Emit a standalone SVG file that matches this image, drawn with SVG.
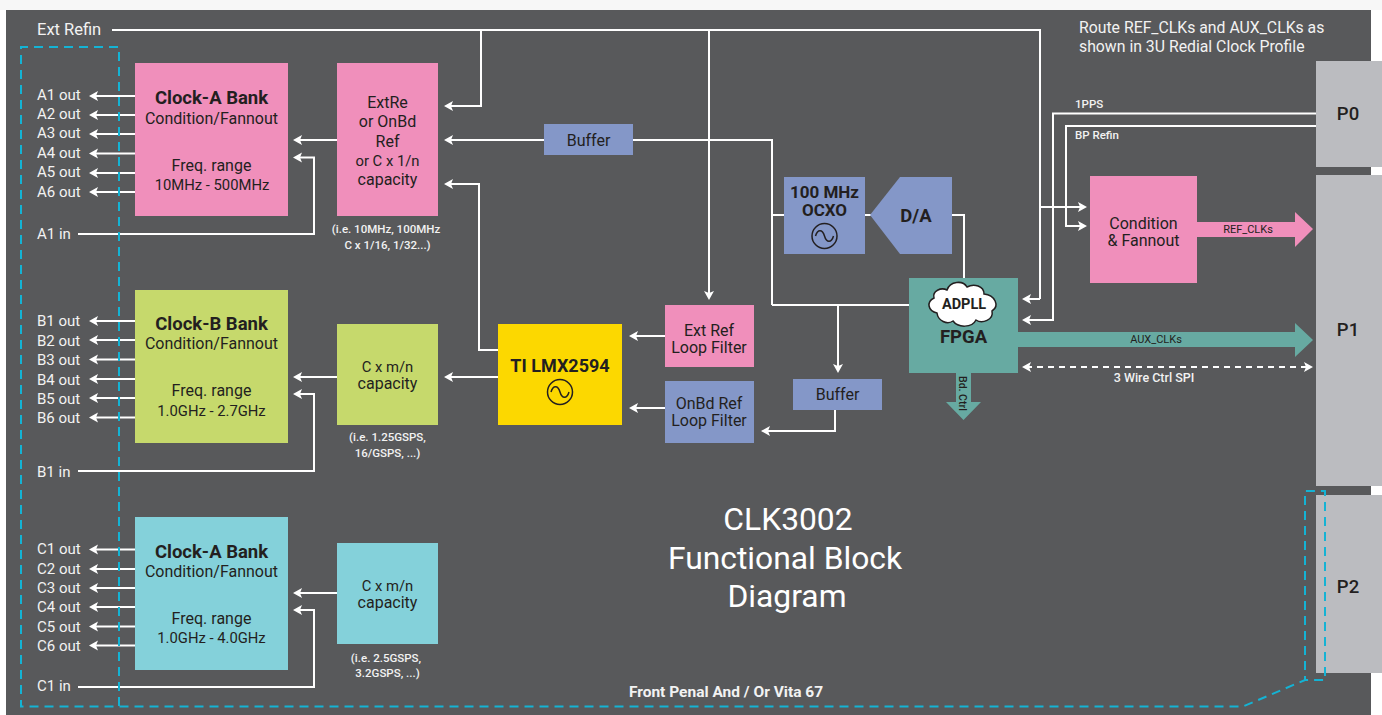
<svg xmlns="http://www.w3.org/2000/svg" width="1382" height="715" viewBox="0 0 1382 715">
<style>
text{font-family:"Roboto","Liberation Sans",sans-serif;font-size:15.800px;fill:#231f20}
.m{text-anchor:middle}
.w{fill:#f2f2f2}
.b{font-weight:700}
.h{font-size:18.500px;font-weight:700}
.f{font-size:18.500px;font-weight:500}
.n{font-size:16px}
.r{font-size:14.800px}
.s{font-size:11.500px;font-weight:500}
.x{font-size:11px}
.t{font-size:31.800px;fill:#fff}
.o{font-size:15px;fill:#f2f2f2}
.c{fill:none;stroke:#fff;stroke-width:2}
.a{marker-end:url(#ah)}
.d{fill:none;stroke:#14b3d4;stroke-width:2;stroke-dasharray:9 6}
.sym{fill:none;stroke:#231f20;stroke-width:1.500}
</style>
<defs>
<marker id="ah" markerUnits="userSpaceOnUse" markerWidth="10" markerHeight="12" refX="5" refY="6" orient="auto-start-reverse"><path d="M0 1L9 6L0 11L2 6Z" fill="#fff"/></marker>
<g id="sine"><circle r="12.500" class="sym"/><path class="sym" d="M-9 0C-7-7-2-7 0 0S7 7 9 0"/></g>
</defs>
<rect width="1382" height="715" fill="#fff"/>
<rect y="0" width="1382" height="10" fill="#f7f7f7"/>
<rect x="6" y="10" width="1365" height="705" fill="#58595b"/>

<g id="connectors">
<path class="c" d="M112 30H1040V299"/>
<path class="c a" d="M1040 299H1026"/>
<path class="c a" d="M481 30V106H448"/>
<path class="c a" d="M709 30V296"/>
<path class="c a" d="M1040 207H1083"/>
<path class="c a" d="M1316 113.500H1053V320H1026"/>
<path class="c a" d="M1316 126H1066V226H1083"/>
<path class="c a" d="M544 140H448"/>
<path class="c" d="M633 140H772V305"/>
<path class="c a" d="M772 305H923"/>
<path class="c a" d="M838 305V369"/>
<path class="c" d="M772 215H784"/>
<path class="c" d="M865 215H871"/>
<path class="c" d="M952 215H964V288"/>
<path class="c a" d="M835 410V431H765"/>
<path class="c a" d="M665 336H633"/>
<path class="c a" d="M665 408H633"/>
<path class="c a" d="M498 377H448"/>
<path class="c a" d="M498 350H479V184H448"/>
<path class="c a" d="M337 140H297"/>
<path class="c a" d="M337 377H297"/>
<path class="c a" d="M337 593H297"/>
<path class="c a" d="M78 234H314V157.500H297"/>
<path class="c a" d="M78 471H314V394H297"/>
<path class="c a" d="M78 687H314V610H297"/>
<path class="c a" d="M135 96H93"/><path class="c a" d="M135 115H93"/><path class="c a" d="M135 134H93"/><path class="c a" d="M135 153.500H93"/><path class="c a" d="M135 173H93"/><path class="c a" d="M135 192H93"/>
<path class="c a" d="M135 321H93"/><path class="c a" d="M135 340H93"/><path class="c a" d="M135 359.500H93"/><path class="c a" d="M135 379H93"/><path class="c a" d="M135 398H93"/><path class="c a" d="M135 417.500H93"/>
<path class="c a" d="M135 549.500H93"/><path class="c a" d="M135 569H93"/><path class="c a" d="M135 588H93"/><path class="c a" d="M135 607H93"/><path class="c a" d="M135 626.500H93"/><path class="c a" d="M135 645.500H93"/>
<path class="c" stroke-dasharray="6 5" d="M1026 367H1309" style="marker-start:url(#ah);marker-end:url(#ah)"/>
<polygon fill="#f08fbb" points="1197,222 1295,222 1295,212 1313,229 1295,247 1295,237 1197,237"/>
<polygon fill="#67aaa2" points="1018,332 1295,332 1295,323 1313,340 1295,357 1295,347 1018,347"/>
<polygon fill="#67aaa2" points="956,373 971,373 971,402 981,402 963.500,420 946,402 956,402"/>
</g>

<g id="bank-a"><rect x="135" y="63" width="153" height="153" fill="#f08fbb"/>
<text x="211.500" y="104" class="m h">Clock-A Bank</text><text x="211.500" y="124" class="m n">Condition/Fannout</text><text x="211.500" y="171" class="m n">Freq. range</text><text x="212" y="190" class="m r">10MHz - 500MHz</text></g>
<g id="ref-a"><rect x="337" y="63" width="101" height="153" fill="#f08fbb"/>
<text x="387.500" y="108" class="m n">ExtRe</text><text x="387.500" y="127" class="m n">or OnBd</text><text x="387.500" y="146.500" class="m n">Ref</text><text x="387.500" y="166" class="m r">or C x 1/n</text><text x="387.500" y="185" class="m n">capacity</text>
<text x="386" y="233" class="m s w">(i.e. 10MHz, 100MHz</text><text x="387.500" y="249" class="m s w">C x 1/16, 1/32...)</text></g>
<g id="bank-b"><rect x="135" y="290" width="153" height="153" fill="#c6d96c"/>
<text x="211.500" y="330" class="m h">Clock-B Bank</text><text x="211.500" y="349" class="m n">Condition/Fannout</text><text x="211.500" y="396" class="m n">Freq. range</text><text x="211.500" y="416" class="m r">1.0GHz - 2.7GHz</text></g>
<g id="cap-b"><rect x="337" y="324" width="101" height="101" fill="#c6d96c"/>
<text x="387.500" y="371.500" class="m r">C x m/n</text><text x="387.500" y="388.500" class="m n">capacity</text>
<text x="387.500" y="441" class="m s w">(i.e. 1.25GSPS,</text><text x="387.500" y="457" class="m s w">16/GSPS, ...)</text></g>
<g id="bank-c"><rect x="135" y="517" width="153" height="153" fill="#84d1da"/>
<text x="211.500" y="558" class="m h">Clock-A Bank</text><text x="211.500" y="577" class="m n">Condition/Fannout</text><text x="211.500" y="624" class="m n">Freq. range</text><text x="211.500" y="643" class="m r">1.0GHz - 4.0GHz</text></g>
<g id="cap-c"><rect x="337" y="543" width="101" height="101" fill="#84d1da"/>
<text x="387.500" y="591" class="m r">C x m/n</text><text x="387.500" y="608" class="m n">capacity</text>
<text x="386" y="662" class="m s w">(i.e. 2.5GSPS,</text><text x="387.500" y="677" class="m s w">3.2GSPS, ...)</text></g>
<g id="buffer-1"><rect x="544" y="124" width="89" height="31" fill="#8497c8"/><text x="588.500" y="146" class="m n">Buffer</text></g>
<g id="buffer-2"><rect x="793" y="379" width="89" height="31" fill="#8497c8"/><text x="837.500" y="400" class="m n">Buffer</text></g>
<g id="lmx"><rect x="498" y="324" width="124" height="101" fill="#fcd800"/><text x="560" y="372" class="m h" style="font-size:18px">TI LMX2594</text><use href="#sine" x="560" y="392"/></g>
<g id="ext-filter"><rect x="665" y="305" width="89" height="62" fill="#f08fbb"/><text x="709" y="336" class="m n">Ext Ref</text><text x="709" y="353" class="m n">Loop Filter</text></g>
<g id="onbd-filter"><rect x="665" y="381" width="89" height="62" fill="#8497c8"/><text x="709" y="409" class="m n">OnBd Ref</text><text x="709" y="426" class="m n">Loop Filter</text></g>
<g id="ocxo"><rect x="784" y="177" width="81" height="77" fill="#8497c8"/><text x="824.500" y="198" class="m h" style="font-size:17px">100 MHz</text><text x="824.500" y="215.500" class="m h" style="font-size:17px">OCXO</text><use href="#sine" x="824.500" y="236"/></g>
<g id="da"><polygon fill="#8497c8" points="870,215 900,177 952,177 952,254 900,254"/><text x="916" y="222" class="m h">D/A</text></g>
<g id="fpga"><rect x="909" y="278" width="109" height="95" fill="#67aaa2"/>
<path d="M937 313C928 311 926 302 934 298C932 291 941 287 947 290C950 281 963 280 967 287C974 283 984 286 984 294C995 295 1000 306 992 311C994 320 982 324 976 320C972 328 958 328 953 321C947 325 938 321 937 313Z" fill="#fff" stroke="#231f20" stroke-width="1.500"/>
<text x="964" y="309" class="m b" style="font-size:14.500px">ADPLL</text><text x="963.500" y="343" class="m f" style="font-weight:700">FPGA</text>
<text transform="translate(959,376) rotate(90)" class="s" style="font-size:10.500px">Bd. Ctrl</text></g>
<g id="condition"><rect x="1090" y="176" width="107" height="107" fill="#f08fbb"/><text x="1143.500" y="228.500" class="m n">Condition</text><text x="1143.500" y="245.500" class="m n">&amp; Fannout</text></g>
<g id="p0"><rect x="1316" y="61" width="66" height="106" fill="#bbbcc0"/><text x="1348" y="120" class="m f">P0</text></g>
<g id="p1"><rect x="1316" y="175" width="66" height="311" fill="#bbbcc0"/><text x="1348" y="336" class="m f">P1</text></g>
<g id="p2"><rect x="1316" y="495" width="66" height="178" fill="#bbbcc0"/><text x="1348" y="593" class="m f">P2</text></g>

<g id="labels">
<text x="37" y="35" class="o" style="font-size:16.500px">Ext Refin</text>
<text x="37" y="100" class="o">A1 out</text><text x="37" y="119" class="o">A2 out</text><text x="37" y="138" class="o">A3 out</text><text x="37" y="158" class="o">A4 out</text><text x="37" y="177" class="o">A5 out</text><text x="37" y="197" class="o">A6 out</text><text x="37" y="239" class="o">A1 in</text>
<text x="37" y="326" class="o">B1 out</text><text x="37" y="346" class="o">B2 out</text><text x="37" y="365" class="o">B3 out</text><text x="37" y="385" class="o">B4 out</text><text x="37" y="404" class="o">B5 out</text><text x="37" y="423" class="o">B6 out</text><text x="37" y="477" class="o">B1 in</text>
<text x="37" y="554" class="o">C1 out</text><text x="37" y="574" class="o">C2 out</text><text x="37" y="593" class="o">C3 out</text><text x="37" y="612" class="o">C4 out</text><text x="37" y="632" class="o">C5 out</text><text x="37" y="651" class="o">C6 out</text><text x="37" y="691" class="o">C1 in</text>
<text x="1079" y="33" class="w">Route REF_CLKs and AUX_CLKs as</text><text x="1079" y="52" class="w">shown in 3U Redial Clock Profile</text>
<text x="1075" y="108" class="s w">1PPS</text><text x="1075" y="139" class="s w">BP Refin</text>
<text x="1248" y="233" class="m x">REF_CLKs</text><text x="1156" y="343" class="m x">AUX_CLKs</text>
<text x="1154" y="382" class="m s w" style="font-size:12.500px">3 Wire Ctrl SPI</text>
<text x="726" y="697" class="m w" style="font-size:15.500px;font-weight:700">Front Penal And / Or Vita 67</text>
<text x="788" y="530" class="m t">CLK3002</text><text x="785" y="569" class="m t">Functional Block</text><text x="787" y="607" class="m t">Diagram</text>
</g>
<g id="dashed-outline">
<path class="d" d="M119 706V47H21V706.500H1243L1305 680H1325V491H1305V680"/>
</g>
</svg>
